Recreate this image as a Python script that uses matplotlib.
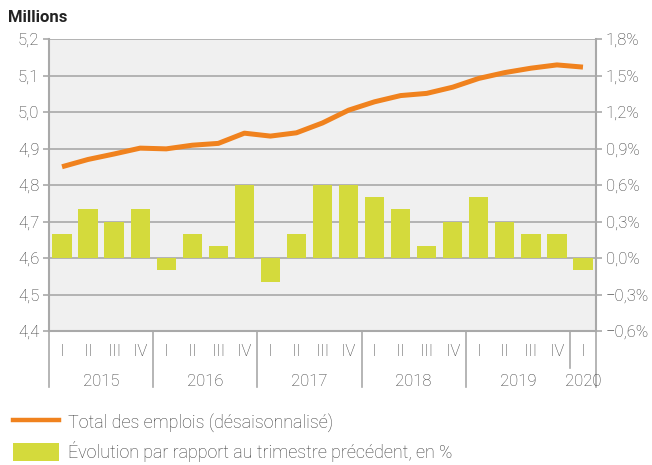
import numpy as np
import matplotlib
matplotlib.use("Agg")
import matplotlib.pyplot as plt
from matplotlib.transforms import blended_transform_factory
from matplotlib.lines import Line2D
from matplotlib.patches import Patch

plt.rcParams['font.family'] = ['Roboto', 'DejaVu Sans']
plt.rcParams['font.size'] = 12
plt.rcParams['font.weight'] = 'light'

quarters = ['I', 'II', 'III', 'IV'] * 5 + ['I']
years = ['2015', '2016', '2017', '2018', '2019', '2020']
year_counts = [4, 4, 4, 4, 4, 1]

# total jobs, millions (seasonally adjusted)
emplois = [4.850, 4.870, 4.885, 4.901, 4.899, 4.909, 4.914, 4.942,
           4.934, 4.943, 4.970, 5.005, 5.028, 5.045, 5.051, 5.068,
           5.092, 5.108, 5.120, 5.129, 5.123]
# change vs previous quarter, %
evolution = [0.2, 0.4, 0.3, 0.4, -0.1, 0.2, 0.1, 0.6,
             -0.2, 0.2, 0.6, 0.6, 0.5, 0.4, 0.1, 0.3,
             0.5, 0.3, 0.2, 0.2, -0.1]

orange = '#F0821E'
green = '#D4DA3C'
grey = '#A9A9A9'
txt = '#3A3A3A'

fig = plt.figure(figsize=(6.52, 4.65), dpi=100)
ax = fig.add_axes([49 / 652, 1 - 331 / 465, 547 / 652, 292 / 465])
ax.set_facecolor('#F0F0F0')
x = np.arange(len(evolution))

ax.bar(x, evolution, width=0.74, color=green, zorder=2)
ax.set_ylim(-0.6, 1.8)
ax.set_xlim(-0.5, len(x) - 0.5)
pct = np.arange(-0.6, 1.81, 0.3)
ax.set_yticks(pct)
ax.set_yticklabels([('%.1f%%' % v).replace('.', ',').replace('-', '\u2212') for v in pct])
ax.grid(axis='y', color=grey, lw=1.2, zorder=1)
ax.set_xticks(x)
ax.set_xticklabels(quarters)
ax.tick_params(axis='x', length=0, pad=9, labelcolor=txt, labelsize=12)
ax.spines['top'].set_visible(False)
for s in ['left', 'right', 'bottom']:
    ax.spines[s].set_color(grey)
    ax.spines[s].set_linewidth(1.5)

ax2 = ax.twinx()
ax2.plot(x, emplois, color=orange, lw=3.6, solid_capstyle='butt', zorder=3)
ax2.set_ylim(4.4, 5.2)
mil = np.arange(4.4, 5.21, 0.1)
ax2.set_yticks(mil)
ax2.set_yticklabels([('%.1f' % v).replace('.', ',') for v in mil])
ax2.yaxis.tick_left()
ax2.tick_params(axis='y', colors=grey, labelcolor=txt, length=4, width=1.2, pad=3,
                labelsize=12)
for s in ax2.spines.values():
    s.set_visible(False)

# twinx resets the host axis ticks to the left, so move them after
ax.yaxis.tick_right()
ax.tick_params(axis='y', colors=grey, labelcolor=txt, length=4, width=1.2, pad=3,
               labelsize=12)

# year labels and separators
tr = blended_transform_factory(ax.transData, ax.transAxes)
start = -0.5
for yr, n in zip(years, year_counts):
    ax.text(start + n / 2, -0.172, yr, transform=tr, ha='center', va='center',
            color=txt, fontsize=12)
    start += n
bounds = [-0.5, 3.5, 7.5, 11.5, 15.5, 19.5, 20.5]
for b in bounds:
    low = -0.127 if b == 19.5 else -0.192
    ax.plot([b, b], [0, low], transform=tr, color=grey, lw=1.2, clip_on=False)

fig.text(8 / 652, 1 - 17 / 465, 'Millions', fontsize=12, fontweight='bold',
         color='#222222', va='center')

handles = [Line2D([], [], color=orange, lw=3.2),
           Patch(facecolor=green)]
labels = ['Total des emplois (désaisonnalisé)',
          'Évolution par rapport au trimestre précédent, en %']
fig.legend(handles, labels, loc='upper left', bbox_to_anchor=(0.0, 0.14),
           frameon=False, handlelength=2.6, handleheight=1.2, labelspacing=0.5,
           handletextpad=0.5, borderaxespad=0.3, labelcolor=txt, fontsize=12.9)

fig.savefig('out.png', dpi=100)
